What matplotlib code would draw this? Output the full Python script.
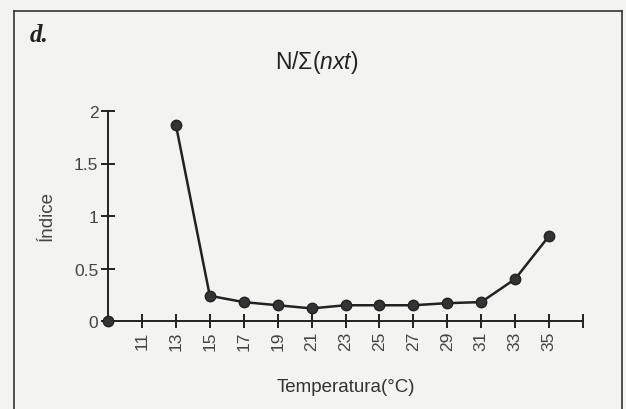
import matplotlib.pyplot as plt
from matplotlib.lines import Line2D

# data
temps = [13, 15, 17, 19, 21, 23, 25, 27, 29, 31, 33, 35]
index = [1.87, 0.24, 0.18, 0.15, 0.12, 0.15, 0.15, 0.15, 0.17, 0.18, 0.40, 0.81]
origin_t = [9]
origin_v = [0]
xticks = [11, 13, 15, 17, 19, 21, 23, 25, 27, 29, 31, 33, 35, 37]
xtick_labels = ["11", "13", "15", "17", "19", "21", "23", "25", "27", "29", "31", "33", "35", ""]
yticks = [0, 0.5, 1, 1.5, 2]
ytick_labels = ["0", "0.5", "1", "1.5", "2"]

plt.rcParams['font.family'] = ['Liberation Sans', 'DejaVu Sans']
plt.rcParams['mathtext.fontset'] = 'custom'
plt.rcParams['mathtext.rm'] = 'Liberation Sans'
plt.rcParams['mathtext.it'] = 'Liberation Sans:italic'
bg = '#f3f3f1'
ink = '#222222'

fig = plt.figure(figsize=(6.26, 4.10), dpi=100, facecolor=bg)
ax = fig.add_axes([108 / 626, 88 / 410, 475 / 626, 210 / 410])
ax.set_facecolor('none')

ax.plot(temps, index, color=ink, lw=1.8, marker='o', ms=7.5, mfc='#333333', mec=ink, clip_on=False, zorder=3)
ax.plot(origin_t, origin_v, ls='none', marker='o', ms=7.5, mfc='#333333', mec=ink, clip_on=False, zorder=3)

ax.set_xlim(9, 37)
ax.set_ylim(0, 2)
for s in ['top', 'right']:
    ax.spines[s].set_visible(False)
for s in ['left', 'bottom']:
    ax.spines[s].set_linewidth(1.4)
    ax.spines[s].set_color(ink)

ax.set_xticks(xticks)
ax.set_xticklabels(xtick_labels, rotation=90)
ax.set_yticks(yticks)
ax.set_yticklabels(ytick_labels)
ax.tick_params(direction='inout', length=10, width=1.4, color=ink, labelsize=12.5, labelcolor='#444444')
ax.tick_params(axis='x', pad=2)
ax.tick_params(axis='y', pad=2)

ax.set_xlabel('Temperatura(°C)', fontsize=13.5, color='#333333')
ax.xaxis.set_label_coords(0.5, -0.314)
ax.xaxis.label.set_va('center')
ax.set_ylabel('Índice', fontsize=13.5, color='#444444')
ax.yaxis.set_label_coords(-0.128, 0.505)
ax.yaxis.label.set_va('center')

fig.text(317 / 626, 1 - 63 / 410, r'N/Σ($\mathit{nxt}$)', fontsize=16.5, ha='center', va='center',
         color='#222222')
fig.text(30 / 626, 1 - 35 / 410, 'd.', fontsize=18, ha='left', va='center', fontweight='bold',
         style='italic', family='Liberation Serif', color='#222222')

# page frame
for xs, ys in [((14, 14), (12, 410)), ((14, 622), (12, 12)), ((622, 622), (12, 410))]:
    fig.add_artist(Line2D([x / 626 for x in xs], [1 - y / 410 for y in ys], color='#333333', lw=1.2))

plt.savefig('out.png', dpi=100, facecolor=bg)
